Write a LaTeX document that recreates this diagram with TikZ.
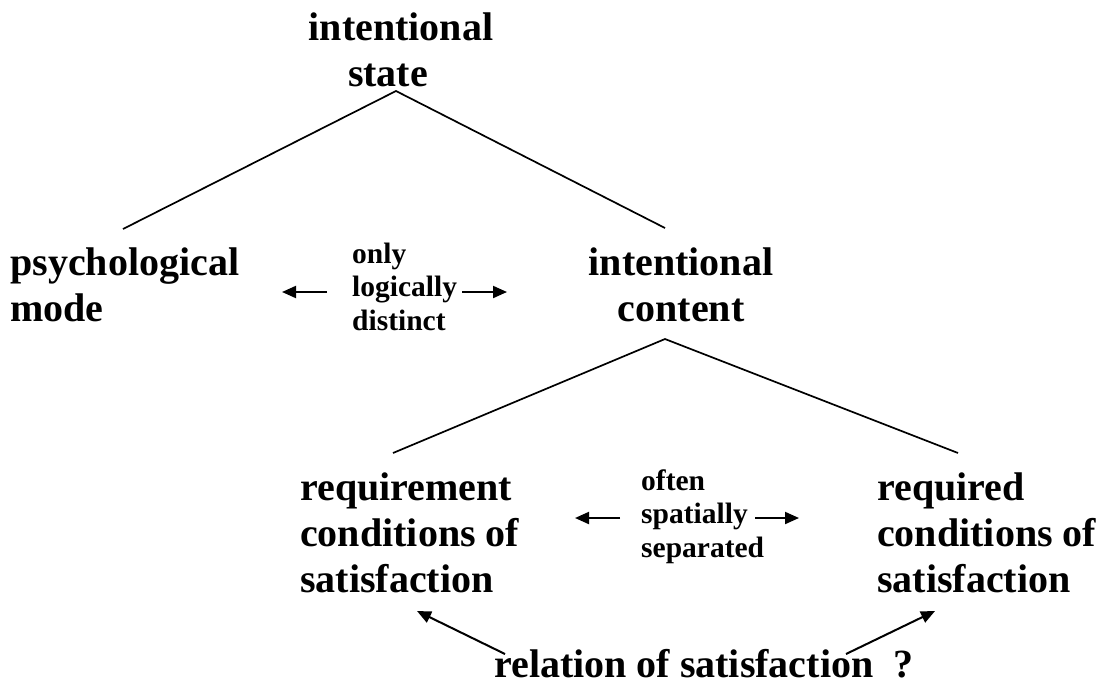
\documentclass[tikz,border=0pt]{standalone}
\usepackage{fontspec}
\setmainfont{Liberation Serif}
\usetikzlibrary{arrows.meta}
\begin{document}
\begin{tikzpicture}[x=1pt,y=-1pt,
  big/.style={font=\fontsize{40}{46}\selectfont\bfseries, inner sep=0pt},
  small/.style={font=\fontsize{29.5}{33.5}\selectfont\bfseries, inner sep=0pt, align=left},
  branch/.style={line width=1.7pt},
  dirarrow/.style={line width=2pt,-{Triangle[length=14pt,width=12pt]}}]
\useasboundingbox (0,0) rectangle (1102,689);
% texts (base anchor = baseline of the last line)
\node[big,align=center,anchor=base] (state) at (401,86) {intentional\\state\hspace*{26pt}};
\node[big,align=left,anchor=base west] (psych) at (10,321) {psychological\\mode};
\node[big,align=center,anchor=base] (content) at (681,321) {intentional\\content};
\node[small,anchor=base west] (logic) at (352,330) {only\\logically\\distinct};
\node[big,align=left,anchor=base west] (reqment) at (300,592) {requirement\\conditions of\\satisfaction};
\node[big,align=left,anchor=base west] (reqd) at (877,592) {required\\conditions of\\satisfaction};
\node[small,anchor=base west] (often) at (641,557) {often\\spatially\\separated};
\node[big,anchor=base west] (rel) at (494,677) {relation of satisfaction~~?};
% branch points
\coordinate (stateApex) at (396,91);
\coordinate (psychEnd) at (123,229);
\coordinate (contentEnd) at (665,228);
\coordinate (contentApex) at (665,339);
\coordinate (reqmentEnd) at (393,453);
\coordinate (reqdEnd) at (958,453);
\draw[branch] (psychEnd) -- (stateApex) -- (contentEnd);
\draw[branch] (reqmentEnd) -- (contentApex) -- (reqdEnd);
% arrow ends
\coordinate (lgL0) at (327,292); \coordinate (lgL1) at (282,292);
\coordinate (lgR0) at (462,292); \coordinate (lgR1) at (507,292);
\coordinate (ofL0) at (620,518); \coordinate (ofL1) at (575,518);
\coordinate (ofR0) at (755,518); \coordinate (ofR1) at (799,518);
\coordinate (rlL0) at (505,654); \coordinate (rlL1) at (417,611);
\coordinate (rlR0) at (846,654); \coordinate (rlR1) at (935,611);
\draw[dirarrow] (lgL0) -- (lgL1);
\draw[dirarrow] (lgR0) -- (lgR1);
\draw[dirarrow] (ofL0) -- (ofL1);
\draw[dirarrow] (ofR0) -- (ofR1);
\draw[dirarrow] (rlL0) -- (rlL1);
\draw[dirarrow] (rlR0) -- (rlR1);
\end{tikzpicture}
\end{document}
